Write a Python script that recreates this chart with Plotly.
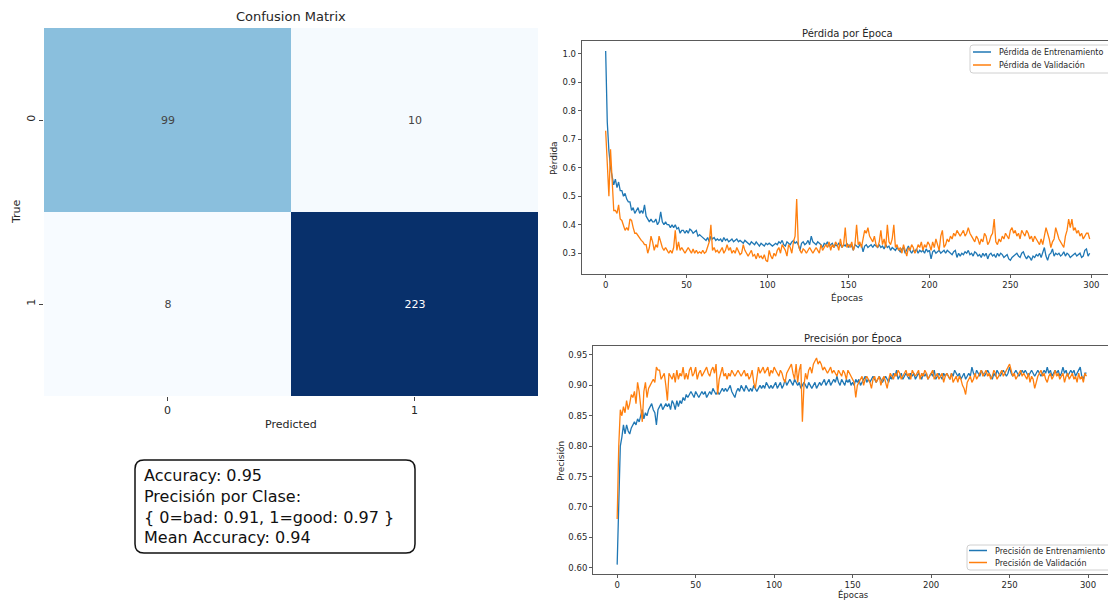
import plotly.graph_objects as go

# ---------------- data ----------------
cm_labels = ["0", "1"]
cm_values = [[99, 10],
             [8, 223]]

summary_lines = ["Accuracy: 0.95",
                 "Precisión por Clase:",
                 "{ 0=bad: 0.91, 1=good: 0.97 }",
                 "Mean Accuracy: 0.94"]

loss_names = ["Pérdida de Entrenamiento", "Pérdida de Validación"]
acc_names = ["Precisión de Entrenamiento", "Precisión de Validación"]

loss_train = [
    1.01, 0.76, 0.66, 0.60, 0.57, 0.54, 0.56, 0.53, 0.55, 0.52,
    0.52, 0.50, 0.51, 0.49, 0.48, 0.48, 0.45, 0.46, 0.44, 0.45,
    0.46, 0.44, 0.45, 0.44, 0.47, 0.43, 0.42, 0.41, 0.42, 0.41,
    0.41, 0.42, 0.40, 0.41, 0.445, 0.41, 0.40, 0.41, 0.40, 0.40,
    0.39, 0.40, 0.39, 0.40, 0.385, 0.39, 0.37, 0.38, 0.38, 0.37,
    0.38, 0.37, 0.385, 0.38, 0.37, 0.375, 0.38, 0.36, 0.365, 0.36,
    0.355, 0.35, 0.345, 0.355, 0.34, 0.36, 0.35, 0.355, 0.345, 0.35,
    0.345, 0.35, 0.34, 0.355, 0.345, 0.35, 0.34, 0.345, 0.35, 0.34,
    0.345, 0.35, 0.34, 0.345, 0.34, 0.335, 0.345, 0.34, 0.335, 0.33,
    0.34, 0.335, 0.33, 0.34, 0.33, 0.325, 0.335, 0.33, 0.325, 0.335,
    0.33, 0.335, 0.33, 0.325, 0.33, 0.335, 0.33, 0.34, 0.335, 0.345,
    0.33, 0.325, 0.34, 0.335, 0.33, 0.34, 0.345, 0.335, 0.34, 0.33,
    0.31, 0.335, 0.34, 0.33, 0.335, 0.345, 0.33, 0.36, 0.34, 0.335,
    0.33, 0.34, 0.335, 0.33, 0.32, 0.335, 0.33, 0.34, 0.325, 0.33,
    0.335, 0.32, 0.33, 0.325, 0.335, 0.33, 0.32, 0.33, 0.325, 0.335,
    0.32, 0.33, 0.325, 0.31, 0.33, 0.325, 0.32, 0.33, 0.33, 0.305,
    0.325, 0.33, 0.32, 0.325, 0.33, 0.32, 0.33, 0.325, 0.32, 0.33,
    0.32, 0.325, 0.315, 0.33, 0.32, 0.325, 0.31, 0.32, 0.315, 0.31,
    0.32, 0.31, 0.305, 0.315, 0.32, 0.30, 0.31, 0.325, 0.31, 0.30,
    0.31, 0.305, 0.315, 0.30, 0.31, 0.305, 0.31, 0.30, 0.315, 0.305,
    0.31, 0.28, 0.305, 0.31, 0.30, 0.305, 0.31, 0.30, 0.305, 0.31,
    0.30, 0.31, 0.305, 0.30, 0.295, 0.305, 0.31, 0.285, 0.30, 0.29,
    0.30, 0.295, 0.305, 0.30, 0.31, 0.295, 0.30, 0.29, 0.305, 0.30,
    0.29, 0.295, 0.285, 0.30, 0.29, 0.30, 0.28, 0.295, 0.30, 0.29,
    0.295, 0.285, 0.30, 0.29, 0.30, 0.295, 0.285, 0.29, 0.295, 0.28,
    0.275, 0.285, 0.29, 0.295, 0.30, 0.29, 0.285, 0.30, 0.305, 0.29,
    0.28, 0.29, 0.285, 0.275, 0.29, 0.285, 0.295, 0.29, 0.30, 0.285,
    0.30, 0.32, 0.29, 0.275, 0.295, 0.30, 0.315, 0.29, 0.30, 0.295,
    0.30, 0.29, 0.295, 0.305, 0.29, 0.30, 0.295, 0.285, 0.29, 0.295,
    0.30, 0.29, 0.295, 0.30, 0.285, 0.29, 0.31, 0.315, 0.29, 0.30,
]

loss_val = [
    0.73, 0.62, 0.50, 0.665, 0.55, 0.45, 0.45, 0.44, 0.47, 0.42,
    0.415, 0.40, 0.38, 0.39, 0.38, 0.42, 0.415, 0.39, 0.37, 0.37,
    0.36, 0.35, 0.345, 0.34, 0.33, 0.33, 0.30, 0.32, 0.36, 0.34,
    0.31, 0.33, 0.32, 0.36, 0.34, 0.32, 0.31, 0.32, 0.31, 0.30,
    0.31, 0.30, 0.32, 0.38, 0.31, 0.34, 0.31, 0.32, 0.31, 0.30,
    0.31, 0.32, 0.31, 0.30, 0.315, 0.30, 0.31, 0.30, 0.305, 0.30,
    0.31, 0.30, 0.305, 0.32, 0.34, 0.40, 0.31, 0.32, 0.305, 0.31,
    0.30, 0.31, 0.32, 0.30, 0.31, 0.33, 0.31, 0.32, 0.30, 0.31,
    0.30, 0.32, 0.31, 0.295, 0.30, 0.33, 0.31, 0.30, 0.29, 0.30,
    0.31, 0.29, 0.295, 0.28, 0.30, 0.285, 0.29, 0.28, 0.295, 0.275,
    0.27, 0.31, 0.29, 0.28, 0.30, 0.29, 0.31, 0.32, 0.30, 0.33,
    0.32, 0.31, 0.29, 0.33, 0.32, 0.30, 0.34, 0.36, 0.49, 0.33,
    0.31, 0.30, 0.315, 0.31, 0.30, 0.31, 0.32, 0.31, 0.30, 0.31,
    0.32, 0.31, 0.30, 0.33, 0.31, 0.32, 0.33, 0.32, 0.34, 0.31,
    0.33, 0.32, 0.34, 0.33, 0.31, 0.35, 0.32, 0.33, 0.39, 0.32,
    0.33, 0.32, 0.34, 0.31, 0.33, 0.40, 0.33, 0.34, 0.32, 0.35,
    0.38, 0.37, 0.39, 0.36, 0.35, 0.34, 0.36, 0.33, 0.32, 0.34,
    0.38, 0.33, 0.35, 0.32, 0.40, 0.34, 0.33, 0.35, 0.40, 0.32,
    0.33, 0.31, 0.32, 0.30, 0.33, 0.31, 0.29, 0.32, 0.31, 0.33,
    0.32, 0.30, 0.31, 0.33, 0.32, 0.34, 0.31, 0.33, 0.32, 0.34,
    0.33, 0.31, 0.34, 0.32, 0.35, 0.33, 0.31, 0.36, 0.38, 0.32,
    0.33, 0.35, 0.34, 0.36, 0.35, 0.37, 0.36, 0.38, 0.37, 0.36,
    0.37, 0.38, 0.36, 0.37, 0.39, 0.37, 0.36, 0.35, 0.34, 0.36,
    0.35, 0.33, 0.35, 0.34, 0.37, 0.36, 0.33, 0.34, 0.36, 0.37,
    0.42, 0.34, 0.33, 0.35, 0.34, 0.36, 0.35, 0.37, 0.36, 0.35,
    0.38, 0.39, 0.37, 0.38, 0.36, 0.37, 0.35, 0.38, 0.37, 0.36,
    0.38, 0.37, 0.35, 0.36, 0.34, 0.36, 0.35, 0.34, 0.33, 0.35,
    0.33, 0.36, 0.39, 0.37, 0.35, 0.32, 0.34, 0.35, 0.39, 0.37,
    0.35, 0.34, 0.33, 0.32, 0.36, 0.38, 0.42, 0.39, 0.42, 0.38,
    0.39, 0.37, 0.38, 0.36, 0.37, 0.35, 0.36, 0.37, 0.37, 0.35,
]

acc_train = [
    0.605, 0.73, 0.80, 0.815, 0.835, 0.82, 0.835, 0.825, 0.82, 0.83,
    0.835, 0.84, 0.835, 0.845, 0.84, 0.85, 0.86, 0.845, 0.855, 0.85,
    0.86, 0.865, 0.87, 0.86, 0.855, 0.835, 0.86, 0.865, 0.87, 0.86,
    0.865, 0.87, 0.865, 0.87, 0.86, 0.875, 0.87, 0.86, 0.875, 0.865,
    0.875, 0.87, 0.88, 0.875, 0.885, 0.88, 0.885, 0.89, 0.885, 0.88,
    0.89, 0.885, 0.88, 0.885, 0.89, 0.885, 0.89, 0.88, 0.885, 0.89,
    0.885, 0.895, 0.89, 0.885, 0.89, 0.885, 0.89, 0.895, 0.89, 0.895,
    0.89, 0.895, 0.90, 0.89, 0.885, 0.88, 0.89, 0.895, 0.89, 0.90,
    0.895, 0.89, 0.90, 0.895, 0.89, 0.895, 0.89, 0.90, 0.895, 0.89,
    0.895, 0.90, 0.895, 0.90, 0.895, 0.905, 0.90, 0.895, 0.90, 0.895,
    0.90, 0.905, 0.895, 0.90, 0.905, 0.895, 0.90, 0.91, 0.90, 0.905,
    0.91, 0.905, 0.90, 0.91, 0.905, 0.90, 0.905, 0.895, 0.90, 0.905,
    0.90, 0.895, 0.905, 0.90, 0.895, 0.90, 0.905, 0.895, 0.90, 0.905,
    0.90, 0.905, 0.91, 0.90, 0.905, 0.91, 0.90, 0.905, 0.91, 0.905,
    0.915, 0.905, 0.90, 0.91, 0.905, 0.90, 0.91, 0.905, 0.91, 0.90,
    0.905, 0.90, 0.91, 0.905, 0.91, 0.90, 0.905, 0.91, 0.915, 0.905,
    0.91, 0.905, 0.91, 0.915, 0.91, 0.905, 0.91, 0.915, 0.91, 0.905,
    0.91, 0.915, 0.91, 0.905, 0.915, 0.91, 0.92, 0.915, 0.925, 0.91,
    0.915, 0.92, 0.91, 0.915, 0.92, 0.915, 0.91, 0.92, 0.915, 0.92,
    0.91, 0.915, 0.92, 0.915, 0.91, 0.92, 0.915, 0.92, 0.91, 0.915,
    0.92, 0.915, 0.925, 0.91, 0.915, 0.92, 0.915, 0.91, 0.92, 0.915,
    0.92, 0.915, 0.91, 0.92, 0.915, 0.925, 0.92, 0.915, 0.92, 0.91,
    0.915, 0.92, 0.91, 0.915, 0.92, 0.915, 0.93, 0.92, 0.915, 0.925,
    0.92, 0.915, 0.925, 0.92, 0.915, 0.92, 0.925, 0.92, 0.915, 0.91,
    0.92, 0.915, 0.925, 0.92, 0.915, 0.92, 0.925, 0.92, 0.915, 0.92,
    0.93, 0.92, 0.915, 0.92, 0.925, 0.92, 0.915, 0.92, 0.925, 0.92,
    0.925, 0.92, 0.915, 0.92, 0.925, 0.92, 0.915, 0.92, 0.925, 0.92,
    0.915, 0.92, 0.925, 0.92, 0.93, 0.92, 0.925, 0.915, 0.92, 0.925,
    0.92, 0.925, 0.915, 0.92, 0.93, 0.92, 0.925, 0.915, 0.92, 0.925,
    0.92, 0.925, 0.915, 0.92, 0.925, 0.93, 0.915, 0.91, 0.92, 0.92,
]

acc_val = [
    0.68, 0.80, 0.86, 0.85, 0.865, 0.855, 0.875, 0.86, 0.87, 0.885,
    0.88, 0.89, 0.87, 0.905, 0.89, 0.865, 0.84, 0.89, 0.905, 0.88,
    0.895, 0.90, 0.905, 0.91, 0.905, 0.93, 0.925, 0.925, 0.91, 0.915,
    0.92, 0.90, 0.875, 0.92, 0.915, 0.91, 0.92, 0.905, 0.925, 0.91,
    0.92, 0.915, 0.93, 0.91, 0.92, 0.91, 0.925, 0.93, 0.915, 0.92,
    0.93, 0.91, 0.92, 0.925, 0.915, 0.92, 0.925, 0.93, 0.92, 0.915,
    0.925, 0.93, 0.92, 0.935, 0.885, 0.91, 0.92, 0.93, 0.915, 0.92,
    0.91, 0.92, 0.915, 0.925, 0.92, 0.915, 0.92, 0.925, 0.92, 0.915,
    0.92, 0.925, 0.915, 0.92, 0.91, 0.915, 0.925, 0.905, 0.895, 0.91,
    0.93, 0.92, 0.925, 0.93, 0.92, 0.925, 0.93, 0.915, 0.925, 0.92,
    0.93, 0.925, 0.92, 0.915, 0.925, 0.92, 0.91, 0.905, 0.92, 0.925,
    0.93, 0.935, 0.92, 0.91, 0.935, 0.905, 0.925, 0.935, 0.84, 0.90,
    0.92, 0.91, 0.925, 0.93, 0.92, 0.935, 0.94, 0.945, 0.935, 0.94,
    0.935, 0.925, 0.93, 0.925, 0.92, 0.925, 0.93, 0.92, 0.925, 0.92,
    0.915, 0.925, 0.92, 0.915, 0.925, 0.92, 0.91, 0.925, 0.92, 0.915,
    0.91, 0.905, 0.88, 0.90, 0.905, 0.91, 0.915, 0.90, 0.91, 0.915,
    0.91, 0.905, 0.895, 0.91, 0.915, 0.905, 0.91, 0.915, 0.90, 0.91,
    0.915, 0.905, 0.895, 0.91, 0.92, 0.915, 0.91, 0.92, 0.915, 0.925,
    0.92, 0.91, 0.915, 0.92, 0.925, 0.915, 0.92, 0.91, 0.925, 0.92,
    0.915, 0.92, 0.925, 0.91, 0.92, 0.915, 0.925, 0.92, 0.91, 0.915,
    0.92, 0.925, 0.91, 0.915, 0.92, 0.91, 0.915, 0.92, 0.905, 0.915,
    0.92, 0.915, 0.91, 0.92, 0.905, 0.91, 0.915, 0.905, 0.915, 0.91,
    0.90, 0.895, 0.885, 0.905, 0.91, 0.915, 0.905, 0.91, 0.92, 0.91,
    0.915, 0.92, 0.925, 0.915, 0.92, 0.925, 0.915, 0.92, 0.91, 0.915,
    0.925, 0.92, 0.91, 0.915, 0.92, 0.925, 0.915, 0.92, 0.925, 0.93,
    0.935, 0.925, 0.915, 0.92, 0.91, 0.915, 0.92, 0.925, 0.915, 0.92,
    0.915, 0.91, 0.92, 0.905, 0.915, 0.91, 0.895, 0.905, 0.915, 0.92,
    0.925, 0.915, 0.92, 0.91, 0.905, 0.915, 0.92, 0.91, 0.915, 0.925,
    0.915, 0.92, 0.91, 0.915, 0.92, 0.905, 0.915, 0.92, 0.91, 0.915,
    0.92, 0.91, 0.915, 0.905, 0.92, 0.91, 0.915, 0.905, 0.92, 0.915,
]

epochs = list(range(len(loss_train)))

loss_ticks = [0.3, 0.4, 0.5, 0.6, 0.7, 0.8, 0.9, 1.0]
acc_ticks = [0.60, 0.65, 0.70, 0.75, 0.80, 0.85, 0.90, 0.95]
epoch_ticks = [0, 50, 100, 150, 200, 250, 300]

# ---------------- layout helpers ----------------
W, H = 1108, 601
FONT = "DejaVu Sans"
BLUE = "#1f77b4"
ORANGE = "#ff7f0e"
FRAME = "#5a5a5a"
TXT = "#262626"


def px(x):
    return x / W


def py(y):
    return 1 - y / H


blues = [[0.0, "#f7fbff"], [0.125, "#deebf7"], [0.25, "#c6dbef"],
         [0.375, "#9ecae1"], [0.5, "#6baed6"], [0.625, "#4292c6"],
         [0.75, "#2171b5"], [0.875, "#08519c"], [1.0, "#08306b"]]

fig = go.Figure()

# confusion matrix
flat = [v for row in cm_values for v in row]
fig.add_trace(go.Heatmap(
    z=cm_values, x=cm_labels, y=cm_labels,
    colorscale=blues, zmin=min(flat), zmax=max(flat), showscale=False,
    texttemplate="%{z}", textfont=dict(family=FONT, size=11),
    xaxis="x", yaxis="y", hoverinfo="skip",
))

# loss curves
fig.add_trace(go.Scatter(x=epochs, y=loss_train, mode="lines", name=loss_names[0],
                         line=dict(color=BLUE, width=1.3), xaxis="x2", yaxis="y2"))
fig.add_trace(go.Scatter(x=epochs, y=loss_val, mode="lines", name=loss_names[1],
                         line=dict(color=ORANGE, width=1.3), xaxis="x2", yaxis="y2"))
# accuracy curves
fig.add_trace(go.Scatter(x=epochs, y=acc_train, mode="lines", name=acc_names[0],
                         line=dict(color=BLUE, width=1.3), xaxis="x3", yaxis="y3"))
fig.add_trace(go.Scatter(x=epochs, y=acc_val, mode="lines", name=acc_names[1],
                         line=dict(color=ORANGE, width=1.3), xaxis="x3", yaxis="y3"))

small_tick = dict(family=FONT, size=8.5, color=TXT)

common_lin = dict(showgrid=False, zeroline=False, ticks="outside", ticklen=3,
                  tickcolor=FRAME, tickfont=small_tick, showline=True,
                  linecolor=FRAME, linewidth=1)

fig.update_layout(
    width=W, height=H, autosize=False,
    margin=dict(l=0, r=0, t=0, b=0, autoexpand=False),
    paper_bgcolor="white", plot_bgcolor="white",
    template="none",
    showlegend=False,
    font=dict(family=FONT, color=TXT),
    xaxis=dict(domain=[px(44), px(538)], type="category", showgrid=False, zeroline=False,
               ticks="outside", ticklen=4, tickcolor="#444", showline=False,
               tickfont=dict(family=FONT, size=11, color=TXT), anchor="y"),
    yaxis=dict(domain=[py(396), py(28)], type="category", autorange="reversed",
               showgrid=False, zeroline=False, ticks="outside", ticklen=4, tickcolor="#444",
               showline=False, tickangle=-90,
               tickfont=dict(family=FONT, size=11, color=TXT), anchor="x"),
    xaxis2=dict(domain=[px(581.7), 1.0], range=[-14.8, 310.3], tickvals=epoch_ticks,
                mirror=True, anchor="y2", **common_lin),
    yaxis2=dict(domain=[py(274), py(41)], range=[0.227, 1.045], tickvals=loss_ticks,
                tickformat=".1f", mirror=False, anchor="x2", **common_lin),
    xaxis3=dict(domain=[px(593), 1.0], range=[-15.4, 312.7], tickvals=epoch_ticks,
                mirror=True, anchor="y3", **common_lin),
    yaxis3=dict(domain=[py(574), py(346)], range=[0.5896, 0.9648], tickvals=acc_ticks,
                tickformat=".2f", mirror=False, anchor="x3", **common_lin),
)

ann = []
shapes = []


def label(text, x, y, size, angle=0, anchor="center"):
    ann.append(dict(text=text, x=px(x), y=py(y), xref="paper", yref="paper",
                    xanchor=anchor, yanchor="middle", showarrow=False, textangle=angle,
                    font=dict(family=FONT, size=size, color=TXT)))


def rounded_box(x0, y0, x1, y1, r, color, width, fill):
    L, R, T, B = px(x0), px(x1), py(y0), py(y1)
    rx, ry = r / W, r / H
    path = (f"M {L+rx},{T} L {R-rx},{T} Q {R},{T} {R},{T-ry} L {R},{B+ry} Q {R},{B} {R-rx},{B} "
            f"L {L+rx},{B} Q {L},{B} {L},{B+ry} L {L},{T-ry} Q {L},{T} {L+rx},{T} Z")
    shapes.append(dict(type="path", path=path, xref="paper", yref="paper",
                       line=dict(color=color, width=width), fillcolor=fill, layer="above"))


def legend_box(x0, y0, y1, names, rows, line_x0, line_x1, text_x):
    rounded_box(x0, y0, x0 + 160, y1, 3, "#d0d0d0", 1, "rgba(255,255,255,0.85)")
    for name, row, col in zip(names, rows, [BLUE, ORANGE]):
        shapes.append(dict(type="line", xref="paper", yref="paper",
                           x0=px(line_x0), x1=px(line_x1), y0=py(row), y1=py(row),
                           line=dict(color=col, width=1.5), layer="above"))
        label(name, text_x, row, 8, anchor="left")


label("Confusion Matrix", 291, 17, 13)
label("Predicted", 291, 424, 11)
label("True", 16, 212, 11, -90)

label("Pérdida por Época", 847, 33, 10)
label("Épocas", 847, 297, 9)
label("Pérdida", 554, 158, 9, -90)

label("Precisión por Época", 853, 338, 10)
label("Épocas", 853, 594.5, 8.5)
label("Precisión", 561, 461, 9, -90)

legend_box(970, 45, 73, loss_names, [52, 65], 973, 991, 997)
legend_box(967, 545, 570, acc_names, [550.5, 562.5], 969, 987, 993)

ann.append(dict(text="<br>".join(summary_lines), x=px(142), y=py(464),
                xref="paper", yref="paper", xanchor="left", yanchor="top",
                align="left", showarrow=False,
                font=dict(family=FONT, size=16, color="#111111")))

# rounded box around the summary text
rounded_box(135, 460, 415, 553, 9, "#111111", 1.5, "white")
shapes[-1]["layer"] = "below"

fig.update_layout(annotations=ann, shapes=shapes)

fig.write_html("out.html")
